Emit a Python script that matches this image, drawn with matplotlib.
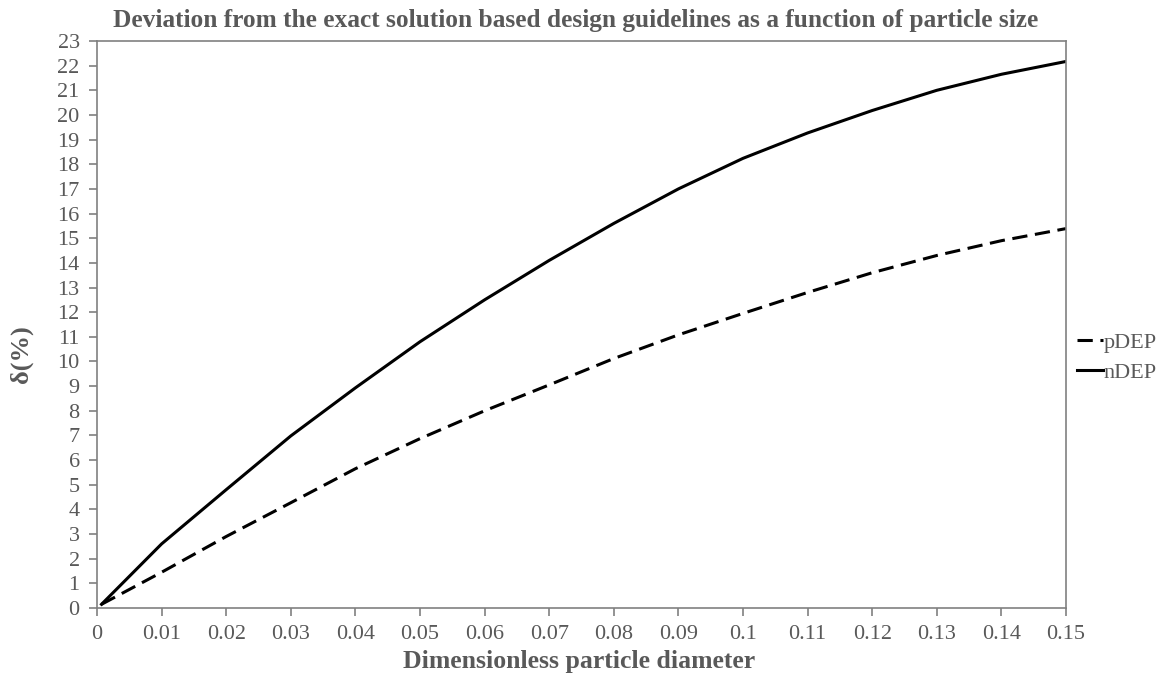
import matplotlib
matplotlib.use("Agg")
import matplotlib.pyplot as plt
from matplotlib.ticker import FuncFormatter, MultipleLocator

plt.rcParams['font.family'] = ['Liberation Serif', 'DejaVu Serif']

# Data
x_vals = [0.0007, 0.01, 0.02, 0.03, 0.04, 0.05, 0.06, 0.07, 0.08, 0.09,
          0.10, 0.11, 0.12, 0.13, 0.14, 0.15]
pdep = [0.15, 1.45, 2.9, 4.27, 5.65, 6.87, 8.0, 9.05, 10.12, 11.08,
        11.95, 12.8, 13.6, 14.3, 14.9, 15.39]
ndep = [0.15, 2.6, 4.8, 6.98, 8.93, 10.8, 12.5, 14.1, 15.6, 17.0,
        18.24, 19.27, 20.18, 21.0, 21.65, 22.17]
series_names = ['pDEP', 'nDEP']

title = 'Deviation from the exact solution based design guidelines as a function of particle size'
xlabel = 'Dimensionless particle diameter'
ylabel = 'δ(%)'

gray_text = '#595959'
spine_col = '#808080'

W, H = 1161, 679
fig = plt.figure(figsize=(W / 100, H / 100), dpi=100)
ax = fig.add_axes([97 / W, 1 - 608 / H, (1066 - 97) / W, (608 - 41) / H])

ax.plot(x_vals, pdep, color='black', lw=2.2, ls=(0, (5, 2.5)), label=series_names[0])
ax.plot(x_vals, ndep, color='black', lw=2.2, ls='-', label=series_names[1])

ax.set_xlim(0, 0.15)
ax.set_ylim(0, 23)
ax.xaxis.set_major_locator(MultipleLocator(0.01))
ax.yaxis.set_major_locator(MultipleLocator(1))
ax.xaxis.set_major_formatter(FuncFormatter(lambda v, p: '%g' % round(v, 2)))

for s in ax.spines.values():
    s.set_color(spine_col)
    s.set_linewidth(1.2)

ax.tick_params(axis='both', direction='out', length=6, width=1.2, color=spine_col,
               labelcolor=gray_text, labelsize=16)
ax.tick_params(axis='x', pad=6)
ax.tick_params(axis='y', pad=6.5)

fig.text(576 / W, 1 - 27 / H, title, ha='center', va='baseline',
         fontsize=18.3, fontweight='bold', color=gray_text)
fig.text(579 / W, 1 - 668 / H, xlabel, ha='center', va='baseline',
         fontsize=18.5, fontweight='bold', color=gray_text)
fig.text(21.5 / W, 1 - 354 / H, ylabel, ha='center', va='center', rotation=90,
         fontsize=19, fontweight='bold', color=gray_text)

fig.legend(loc='center left', bbox_to_anchor=(1077 / W, 1 - 357.5 / H), frameon=False,
           handlelength=1.15, handletextpad=0.05, labelspacing=0.4,
           prop={'size': 16}, labelcolor=gray_text, borderaxespad=0, borderpad=0)

fig.savefig('out.png', dpi=100)
